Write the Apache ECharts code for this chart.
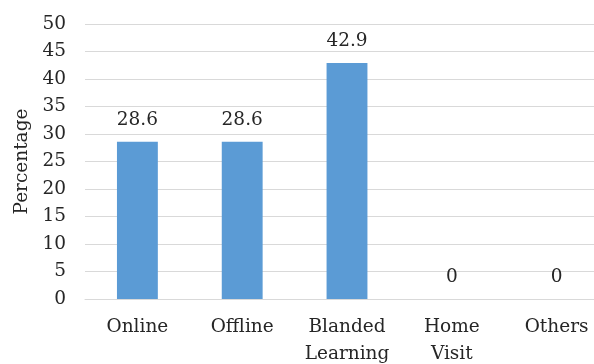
<!DOCTYPE html>
<html>
<head>
<meta charset="utf-8">
<script src="https://cdn.jsdelivr.net/npm/echarts@6/dist/echarts.min.js"></script>
<style>
  html, body { margin: 0; padding: 0; background: #fff; }
  #chart { width: 594px; height: 364px; }
</style>
</head>
<body>
<div id="chart"></div>
<script>
// Learning modes and the share of respondents for each
const categories = ['Online', 'Offline', 'Blanded Learning', 'Home Visit', 'Others'];
const percentages = [28.6, 28.6, 42.9, 0, 0];
const yTicks = { min: 0, max: 50, interval: 5 };

const FONT = '"DejaVu Serif", serif';
const SIZE = 18.5;
const TEXT = '#262626';
const GRID = '#D9D9D9';

const chart = echarts.init(document.getElementById('chart'), null, { renderer: 'canvas' });
chart.setOption({
  animation: false,
  backgroundColor: '#ffffff',
  grid: {
    left: 85, right: -15, top: 24, bottom: 65,
    containLabel: false,
    outerBoundsMode: 'none'
  },
  xAxis: {
    type: 'category',
    data: categories,
    axisTick: { show: false },
    axisLine: { lineStyle: { color: GRID, width: 1 } },
    axisLabel: {
      interval: 0,
      margin: 15,
      color: TEXT,
      fontFamily: FONT,
      fontSize: SIZE,
      lineHeight: 27,
      formatter: v => v.replace(' ', '\n')
    }
  },
  yAxis: {
    type: 'value',
    min: yTicks.min,
    max: yTicks.max,
    interval: yTicks.interval,
    name: 'Percentage',
    nameLocation: 'middle',
    nameGap: 49,
    nameTextStyle: { color: TEXT, fontFamily: FONT, fontSize: SIZE },
    axisLine: { show: false },
    axisTick: { show: false },
    axisLabel: { margin: 19, color: TEXT, fontFamily: FONT, fontSize: SIZE },
    splitLine: { lineStyle: { color: GRID, width: 1 } }
  },
  series: [{
    type: 'bar',
    data: percentages,
    barWidth: '39%',
    itemStyle: { color: '#5B9BD5' },
    label: {
      show: true,
      position: 'top',
      distance: 12,
      color: TEXT,
      fontFamily: FONT,
      fontSize: SIZE
    }
  }]
});
</script>
</body>
</html>
